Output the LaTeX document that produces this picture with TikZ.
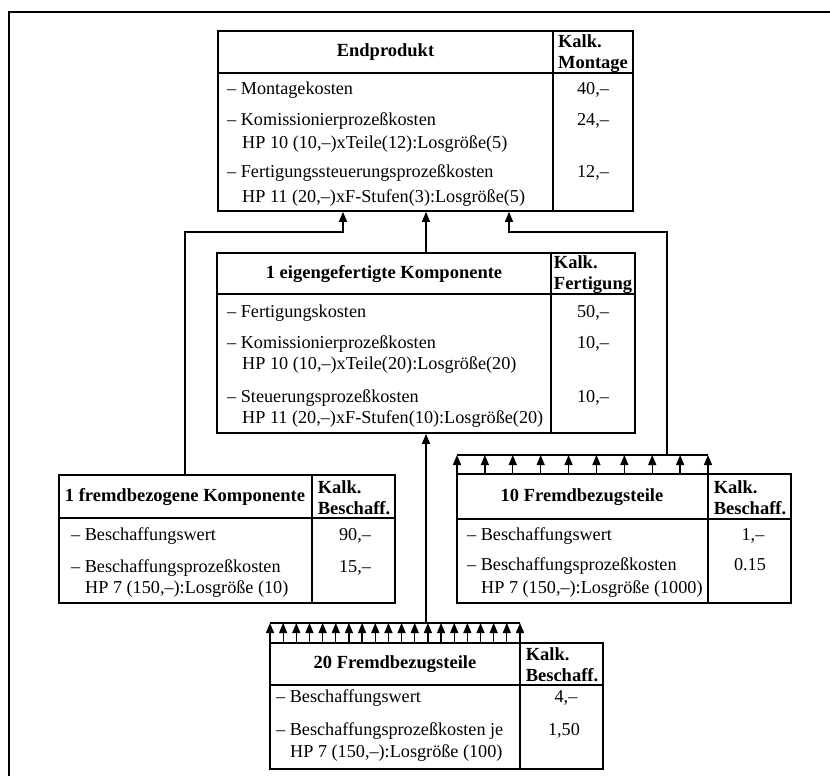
\documentclass[tikz,border=0pt]{standalone}
\usepackage{fontspec}
\setmainfont{Liberation Serif}
\usetikzlibrary{arrows.meta,calc}
\begin{document}
\begin{tikzpicture}[x=1pt,y=-1pt,
  boxst/.style={draw, line width=1.7pt, inner sep=0pt},
  divst/.style={line width=1.5pt},
  conn/.style={line width=1.3pt},
  arr/.style={conn, -{Triangle[length=10pt,width=8pt]}},
  framest/.style={line width=1.8pt},
  txt/.style={inner sep=0pt, anchor=base west, font=\fontsize{18.2}{21}\selectfont},
  val/.style={inner sep=0pt, anchor=base, font=\fontsize{18.2}{21}\selectfont},
  hd/.style={inner sep=0pt, anchor=center, font=\fontsize{18.5}{21}\selectfont\bfseries},
  kalk/.style={inner sep=0pt, anchor=center, align=left, font=\fontsize{18.5}{21}\selectfont\bfseries}]
\useasboundingbox (0,0) rectangle (830,776);
% outer frame
\draw[framest] (830,12) -- (9,12) -- (9,776);

% ---------- Endprodukt ----------
\node[boxst, minimum width=415pt, minimum height=180pt] (ep) at (425.5,121) {};
\draw[divst] (553,31) -- (553,211);
\draw[divst] (218,73) -- (633,73);
\node[hd] (eph) at (385.5,52) {Endprodukt};
\node[kalk] (epk) at (593,54) {Kalk.\\Montage};
\node[txt] (ep1) at (227,95) {– Montagekosten};
\node[txt] (ep2) at (227,125) {– Komissionierprozeßkosten};
\node[txt] (ep3) at (242,148) {HP 10 (10,–)xTeile(12):Losgröße(5)};
\node[txt] (ep4) at (227,177) {– Fertigungssteuerungsprozeßkosten};
\node[txt] (ep5) at (242,202) {HP 11 (20,–)xF-Stufen(3):Losgröße(5)};
\node[val] (epv1) at (593,95) {40,–};
\node[val] (epv2) at (593,125) {24,–};
\node[val] (epv3) at (593,177) {12,–};

% ---------- 1 eigengefertigte Komponente ----------
\node[boxst, minimum width=418pt, minimum height=180pt] (mid) at (426,343) {};
\draw[divst] (551,253) -- (551,433);
\draw[divst] (217,294) -- (635,294);
\node[hd] (midh) at (384,274) {1 eigengefertigte Komponente};
\node[kalk] (midk) at (593,275) {Kalk.\\Fertigung};
\node[txt] (mid1) at (227,317) {– Fertigungskosten};
\node[txt] (mid2) at (227,348) {– Komissionierprozeßkosten};
\node[txt] (mid3) at (242,369) {HP 10 (10,–)xTeile(20):Losgröße(20)};
\node[txt] (mid4) at (227,402) {– Steuerungsprozeßkosten};
\node[txt] (mid5) at (242,423) {HP 11 (20,–)xF-Stufen(10):Losgröße(20)};
\node[val] (midv1) at (593,317) {50,–};
\node[val] (midv2) at (593,348) {10,–};
\node[val] (midv3) at (593,402) {10,–};

% ---------- 1 fremdbezogene Komponente ----------
\node[boxst, minimum width=336pt, minimum height=128pt] (fremd) at (227,539) {};
\draw[divst] (312,475) -- (312,603);
\draw[divst] (59,518) -- (395,518);
\node[hd] (fremdh) at (185,497) {1 fremdbezogene Komponente};
\node[kalk] (fremdk) at (354,498) {Kalk.\\Beschaff.};
\node[txt] (fremd1) at (71,540) {– Beschaffungswert};
\node[txt] (fremd2) at (71,572) {– Beschaffungsprozeßkosten};
\node[txt] (fremd3) at (85,593) {HP 7 (150,–):Losgröße (10)};
\node[val] (fremdv1) at (355,540) {90,–};
\node[val] (fremdv2) at (355,572) {15,–};

% ---------- 10 Fremdbezugsteile ----------
\node[boxst, minimum width=334pt, minimum height=129pt] (ten) at (624,538.5) {};
\draw[divst] (708,474) -- (708,603);
\draw[divst] (457,519) -- (791,519);
\node[hd] (tenh) at (582,497) {10 Fremdbezugsteile};
\node[kalk] (tenk) at (750,498) {Kalk.\\Beschaff.};
\node[txt] (ten1) at (467,540) {– Beschaffungswert};
\node[txt] (ten2) at (467,570) {– Beschaffungsprozeßkosten};
\node[txt] (ten3) at (481,593) {HP 7 (150,–):Losgröße (1000)};
\node[val] (tenv1) at (753,540) {1,–};
\node[val] (tenv2) at (750,570) {0.15};

% ---------- 20 Fremdbezugsteile ----------
\node[boxst, minimum width=333pt, minimum height=126pt] (tw) at (436.5,706) {};
\draw[divst] (520,643) -- (520,769);
\draw[divst] (270,685) -- (603,685);
\node[hd] (twh) at (395,664) {20 Fremdbezugsteile};
\node[kalk] (twk) at (562,665) {Kalk.\\Beschaff.};
\node[txt] (tw1) at (276,702) {– Beschaffungswert};
\node[txt] (tw2) at (276,735) {– Beschaffungsprozeßkosten je};
\node[txt] (tw3) at (290,757) {HP 7 (150,–):Losgröße (100)};
\node[val] (twv1) at (566,702) {4,–};
\node[val] (twv2) at (564,735) {1,50};

% ---------- connectors ----------
\coordinate (jL) at (343,232);
\coordinate (jR) at (509,232);
\coordinate (vF) at (185,232);
\coordinate (vT) at (667,232);
\coordinate (tenbarL) at (457,455);
\coordinate (tenbarR) at (708,455);
\coordinate (twbarL) at (270,623);
\coordinate (twbarR) at (520,623);

\draw[arr] (fremd.north -| vF) -- (vF) -- (jL) -- (ep.south -| jL);
\draw[arr] (mid.north) -- (ep.south -| mid.north);
\draw[arr] (vT |- tenbarL) -- (vT) -- (jR) -- (ep.south -| jR);
\draw[arr] (mid.south |- twbarL) -- (mid.south);

\draw[conn] (tenbarL) -- (tenbarR);
\foreach \i in {0,...,9} {
  \path ($(tenbarL)!\i/9!(tenbarR)$) coordinate (p);
  \draw[arr] (p |- ten.north) -- (p);
}
\draw[conn] (twbarL) -- (twbarR);
\foreach \i in {0,...,19} {
  \path ($(twbarL)!\i/19!(twbarR)$) coordinate (q);
  \draw[arr] (q |- tw.north) -- (q);
}
\end{tikzpicture}
\end{document}
